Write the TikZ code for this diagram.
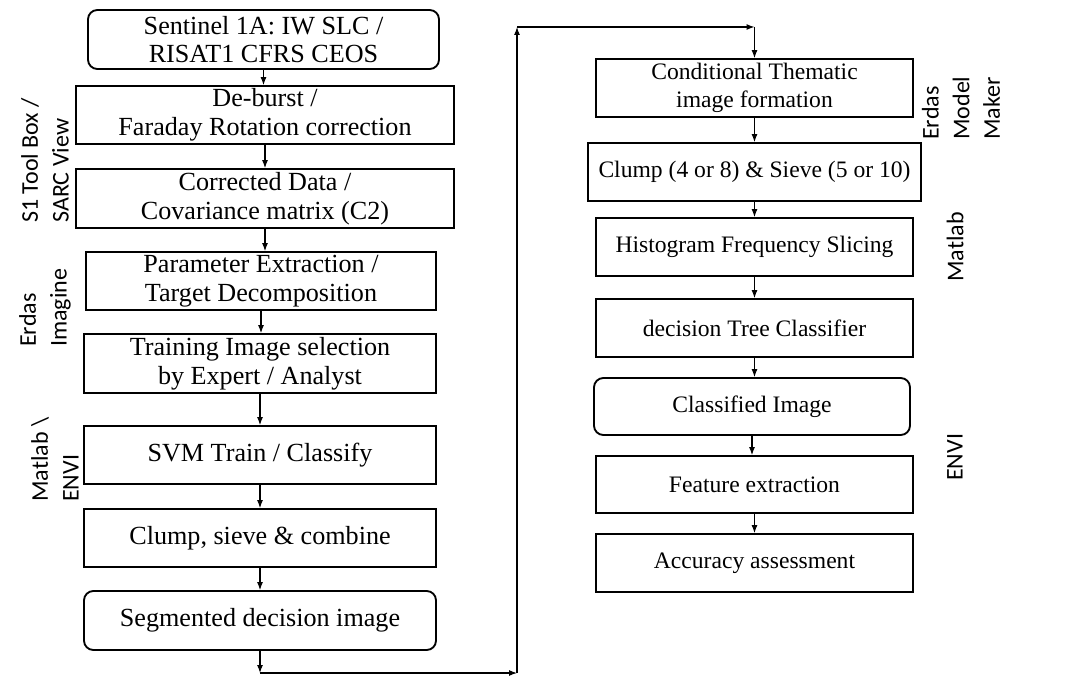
\documentclass[tikz,border=0pt]{standalone}
\usepackage{fontspec}
\setmainfont{Liberation Serif}
\setsansfont{Carlito}
\usepackage{tikz}
\usetikzlibrary{arrows.meta,positioning,calc}

\begin{document}
\begin{tikzpicture}[x=0.75pt,y=-0.75pt,
  box/.style={draw,line width=1.4pt,align=center,inner sep=0pt,
    font=\fontsize{19.6pt}{21.5pt}\selectfont},
  rbox/.style={box,rounded corners=7pt},
  rt/.style={font=\fontsize{17.7pt}{21pt}\selectfont},
  sz/.style 2 args={minimum width=#1*0.75pt,minimum height=#2*0.75pt},
  side/.style={rotate=90,anchor=west,align=left,inner sep=0pt,
    font=\sffamily\fontsize{18pt}{23pt}\selectfont},
  ar/.style={-{Latex[length=6pt,width=4.5pt]},line width=0.8pt}]
\useasboundingbox (0,0) rectangle (1068,677);
% left column
\node[rbox,sz={351}{59}] (src) at (263.5,39.5) {Sentinel 1A: IW SLC /\\ RISAT1 CFRS CEOS};
\node[box,sz={378}{58}] (deb) at (265,115) {De-burst /\\ Faraday Rotation correction};
\node[box,sz={378}{59}] (cor) at (265,198.5) {Corrected Data /\\ Covariance matrix (C2)};
\node[box,sz={350}{58}] (par) at (261,281) {Parameter Extraction /\\ Target Decomposition};
\node[box,sz={352}{59}] (trn) at (260,363.5) {Training Image selection\\ by Expert / Analyst};
\node[box,sz={352}{58}] (svm) at (260,455) {SVM Train / Classify};
\node[box,sz={352}{58}] (clp) at (260,538) {Clump, sieve \& combine};
\node[rbox,sz={352}{59}] (seg) at (260,620.5) {Segmented decision image};
% right column
\node[box,rt,sz={317}{58}] (cnd) at (754.5,88) {Conditional Thematic\\ image formation};
\node[box,rt,sz={333}{58}] (slv) at (754.5,172) {Clump (4 or 8) \& Sieve (5 or 10)};
\node[box,rt,sz={317}{58}] (his) at (754.5,247) {Histogram Frequency Slicing};
\node[box,rt,sz={317}{58}] (dtc) at (754.5,328) {decision Tree Classifier};
\node[rbox,rt,sz={316}{57}] (cls) at (752,406.5) {Classified Image};
\node[box,rt,sz={317}{57}] (fea) at (754.5,484.5) {Feature extraction};
\node[box,rt,sz={317}{58}] (acc) at (754.5,563) {Accuracy assessment};
% tools
\node[side] (tbx) at (45,223) {S1 Tool Box /\\ SARC View};
\node[side] (erd) at (45,347) {Erdas\\ Imagine};
\node[side] (mtl) at (55,502) {Matlab \textbackslash\\ ENVI};
\node[side] (emm) at (961,140) {Erdas\\ Model\\ Maker};
\node[side] (mtr) at (955,282) {Matlab};
\node[side] (env) at (955,481) {ENVI};
% flow
\foreach \a/\b in {src/deb,deb/cor,cor/par,par/trn,trn/svm,svm/clp,clp/seg,
  cnd/slv,slv/his,his/dtc,dtc/cls,cls/fea,fea/acc}
  \draw[ar] (\a.south) -- (\a.south |- \b.north);
\coordinate (b1) at (260,673);
\coordinate (b2) at (517,673);
\coordinate (b3) at (517,27);
\coordinate (b4) at (754.5,27);
\draw[ar] (seg.south) -- (b1);
\draw[ar] (b1) -- (b2);
\draw[ar] (b2) -- (b3);
\draw[ar] (b3) -- (b4);
\draw[ar] (b4) -- (cnd.north);
\end{tikzpicture}
\end{document}
